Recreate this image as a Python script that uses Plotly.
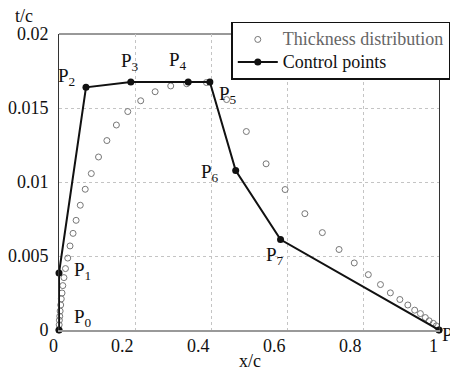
import plotly.graph_objects as go

# ---- data ----
thick_x = [0.0, 0.0005, 0.001, 0.002, 0.003, 0.0045, 0.006, 0.008, 0.010, 0.013,
           0.017, 0.023, 0.029, 0.037, 0.045, 0.056, 0.069, 0.085, 0.104, 0.126,
           0.151, 0.181, 0.215, 0.253, 0.294, 0.336, 0.388, 0.441, 0.493, 0.545,
           0.595, 0.647, 0.693, 0.737, 0.777, 0.814, 0.846, 0.872, 0.897, 0.918,
           0.936, 0.951, 0.964, 0.974, 0.985, 0.993, 1.0]
thick_y = [0.0, 0.00035, 0.00066, 0.00093, 0.00128, 0.00169, 0.0021, 0.0025, 0.0030, 0.00354,
           0.00415, 0.00486, 0.00568, 0.00653, 0.00741, 0.00843, 0.00951, 0.01057, 0.01169, 0.0128,
           0.01385, 0.01476, 0.01549, 0.0161, 0.01649, 0.01664, 0.01672, 0.01557, 0.01341, 0.01123,
           0.00949, 0.00786, 0.00658, 0.00544, 0.00453, 0.00374, 0.00307, 0.00251, 0.00206, 0.00169,
           0.00134, 0.00111, 0.00084, 0.00062, 0.00045, 0.00028, 0.0]

ctrl_x = [0.0, 0.0, 0.071, 0.189, 0.340, 0.397, 0.465, 0.583, 1.0]
ctrl_y = [0.0, 0.00385, 0.0164, 0.01676, 0.01676, 0.01676, 0.01077, 0.00611, 0.0]
ctrl_names = ["P<sub>0</sub>", "P<sub>1</sub>", "P<sub>2</sub>", "P<sub>3</sub>", "P<sub>4</sub>",
              "P<sub>5</sub>", "P<sub>6</sub>", "P<sub>7</sub>", "P<sub>8</sub>"]

x_tick_vals = [0, 0.2, 0.4, 0.6, 0.8, 1.0]
x_tick_text = ["0", "0.2", "0.4", "0.6", "0.8", "1"]
y_tick_vals = [0, 0.005, 0.01, 0.015, 0.02]
y_tick_text = ["0", "0.005", "0.01", "0.015", "0.02"]

FONT = "Times New Roman, Liberation Serif, DejaVu Serif, serif"

fig = go.Figure()
fig.add_trace(go.Scatter(
    x=thick_x, y=thick_y, mode="markers",
    name='<span style="color:#666666;font-size:18px">Thickness distribution</span>',
    marker=dict(symbol="circle-open", size=6, color="#777777", line=dict(width=1, color="#777777")),
    cliponaxis=False,
))
fig.add_trace(go.Scatter(
    x=ctrl_x, y=ctrl_y, mode="lines+markers",
    name='<span style="font-size:18px">Control points</span>',
    line=dict(color="#111111", width=2),
    marker=dict(symbol="circle", size=7, color="#111111"),
    cliponaxis=False,
))

# label offsets (px) and anchors for each control point
lab_style = [
    ("left", 13, 12), ("left", 13, 2), ("right", -9, 10), ("center", -1, 20),
    ("center", -10, 21), ("left", 7, -13), ("right", -15, -2), ("center", -6, -16),
    ("left", 1, -6),
]
annotations = []
for xv, yv, nm, (anc, dx, dy) in zip(ctrl_x, ctrl_y, ctrl_names, lab_style):
    annotations.append(dict(x=xv, y=yv, xref="x", yref="y", text=nm, showarrow=False,
                            xanchor=anc, yanchor="middle", xshift=dx, yshift=dy,
                            font=dict(family=FONT, size=19, color="#111111")))
for xv, tt in zip(x_tick_vals, x_tick_text):
    annotations.append(dict(x=xv, y=0, xref="x", yref="paper", text=tt, showarrow=False,
                            xanchor="right", yanchor="top", yshift=-4, xshift=1,
                            font=dict(family=FONT, size=18, color="#111111")))
annotations.append(dict(x=0.502, y=0, xref="paper", yref="paper", text="x/c", showarrow=False,
                        xanchor="center", yanchor="top", yshift=-19,
                        font=dict(family=FONT, size=18, color="#111111")))
annotations.append(dict(x=-0.093, y=1, xref="paper", yref="paper", text="t/c", showarrow=False,
                        xanchor="center", yanchor="middle", yshift=18, height=16,
                        font=dict(family=FONT, size=18, color="#111111")))

shapes = [
    # top border
    dict(type="line", xref="paper", yref="paper", x0=0, x1=1, y0=1, y1=1,
         line=dict(color="#333333", width=1), layer="below"),
    # legend shadow
    dict(type="rect", xref="paper", yref="paper", x0=0.4605, x1=1.025, y0=0.8564, y1=1.032,
         fillcolor="#222222", line=dict(width=0), layer="above"),
]

fig.update_layout(
    width=450, height=366,
    margin=dict(l=51, r=19, t=26, b=44, autoexpand=False),
    paper_bgcolor="white", plot_bgcolor="white",
    font=dict(family=FONT, size=18, color="#111111"),
    showlegend=True,
    legend=dict(x=0.4534, y=1.0416, xanchor="left", yanchor="top",
                bgcolor="white", bordercolor="#111111", borderwidth=1.5,
                font=dict(family=FONT, size=15), itemwidth=40, tracegroupgap=0),
    xaxis=dict(range=[0, 1], tickvals=x_tick_vals, showticklabels=False,
               showgrid=True, gridcolor="#c4c4c4", griddash="dot", gridwidth=1,
               zeroline=False, showline=True, linecolor="#999999", linewidth=2,
               ticks=""),
    yaxis=dict(range=[0, 0.02], tickvals=y_tick_vals, ticktext=y_tick_text,
               showgrid=True, gridcolor="#c4c4c4", griddash="dot", gridwidth=1,
               zeroline=False, showline=True, mirror=True, linecolor="#333333", linewidth=1,
               ticks="", ticklabelstandoff=6, tickfont=dict(family=FONT, size=18)),
    annotations=annotations, shapes=shapes,
)

fig.write_html("out.html")
